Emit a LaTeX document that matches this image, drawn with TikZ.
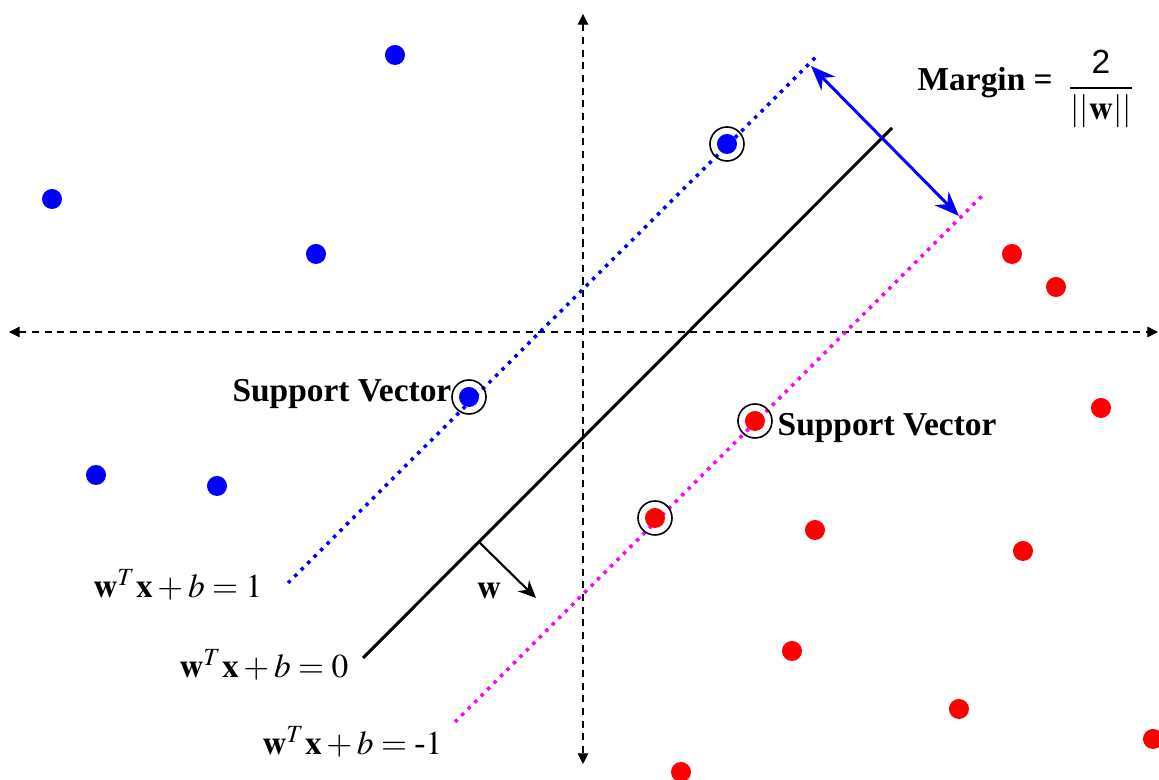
\documentclass[tikz,border=0pt]{standalone}
\usepackage{amsmath}
\usepackage{mathptmx}
\usepackage{fontspec}
\setmainfont{Liberation Serif}
\newfontfamily\arialfont{Liberation Sans}
\usetikzlibrary{arrows.meta}
\definecolor{pinkline}{RGB}{255,0,255}
\newcommand{\wvec}{\mathbf{w}}
\newcommand{\xvec}{\mathbf{x}}

\begin{document}
\begin{tikzpicture}[x=0.01cm, y=-0.01cm,
  every node/.style={font=\fontsize{9.5}{11}\selectfont},
  bluept/.style={circle, fill=blue, inner sep=0pt, minimum size=0.2cm},
  redpt/.style={circle, fill=red, inner sep=0pt, minimum size=0.2cm},
  ring/.style={draw=black, line width=0.45pt},
  axis/.style={line width=0.3pt, dash pattern=on 2pt off 1.6pt, {Triangle[length=3pt,width=3pt]}-{Triangle[length=3pt,width=3pt]}},
  marginline/.style={line width=1pt, dash pattern=on 1pt off 1.6pt},
]
\useasboundingbox (0,0) rectangle (1159,780);

% axes
\coordinate (xl) at (9,332);
\coordinate (xr) at (1158,332);
\coordinate (yt) at (583,14);
\coordinate (yb) at (583,764);
\draw[axis] (xl) -- (xr);
\draw[axis] (yt) -- (yb);

% hyperplanes
\coordinate (p1a) at (288,583);
\coordinate (p1b) at (817,56);
\coordinate (p0a) at (363,658);
\coordinate (p0b) at (892,128);
\coordinate (m1a) at (455,722);
\coordinate (m1b) at (984,194);
\draw[marginline, blue] (p1a) -- (p1b);
\draw[line width=0.85pt] (p0a) -- (p0b);
\draw[marginline, pinkline] (m1a) -- (m1b);

% margin arrow
\coordinate (ma) at (811,66);
\coordinate (mb) at (959,216);
\draw[blue, line width=0.85pt, {Stealth[length=7pt,width=5.5pt]}-{Stealth[length=7pt,width=5.5pt]}] (ma) -- (mb);

% normal vector
\coordinate (wa) at (480,543);
\coordinate (wb) at (536,598);
\draw[line width=0.6pt, -{Stealth[length=5pt,width=4.5pt]}] (wa) -- (wb);
\node (wlab) at (489,591) {$\wvec$};

% blue class
\node[bluept] (b1) at (395,55) {};
\node[bluept] (b2) at (52,199) {};
\node[bluept] (b3) at (316,254) {};
\node[bluept] (b4) at (96,475) {};
\node[bluept] (b5) at (217,486) {};
\node[bluept] (b6) at (469,397) {};
\node[bluept] (b7) at (727,144) {};

% red class
\node[redpt] (r1) at (1012,254) {};
\node[redpt] (r2) at (1056,287) {};
\node[redpt] (r3) at (1101,408) {};
\node[redpt] (r4) at (755,421) {};
\node[redpt] (r5) at (655,518) {};
\node[redpt] (r6) at (815,530) {};
\node[redpt] (r7) at (1023,551) {};
\node[redpt] (r8) at (792,651) {};
\node[redpt] (r9) at (959,709) {};
\node[redpt] (r10) at (1153,739) {};
\node[redpt] (r11) at (681,772) {};

% support vectors
\draw[ring] (b6) circle[radius=0.17cm];
\draw[ring] (b7) circle[radius=0.17cm];
\draw[ring] (r4) circle[radius=0.17cm];
\draw[ring] (r5) circle[radius=0.17cm];
\node[anchor=east, inner sep=0pt] (svl) at (452,394) {\textbf{Support Vector}};
\node[anchor=west, inner sep=0pt] (svr) at (777,428) {\textbf{Support Vector}};

% equations
\node[anchor=base east, inner sep=0pt] (eq1) at (263,598) {$\wvec^T\xvec + b = 1$};
\node[anchor=base east, inner sep=0pt] (eq0) at (349,678) {$\wvec^T\xvec + b = 0$};
\node[anchor=base east, inner sep=0pt] (eqm) at (443,755) {$\wvec^T\xvec + b = \text{-}1$};

% margin
\node[anchor=base west, inner sep=0pt] (mtxt) at (917,91) {\textbf{Margin =}};
\node[inner sep=0pt] (mfrac) at (1101,89) {$\dfrac{\text{\arialfont 2}}{||\wvec||}$};
\end{tikzpicture}
\end{document}
